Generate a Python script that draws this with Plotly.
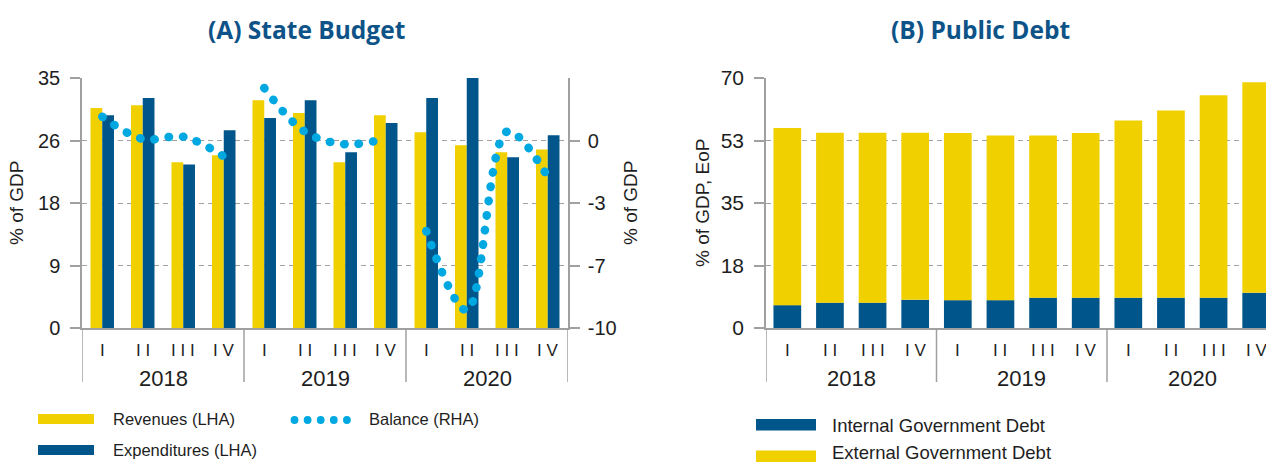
import plotly.graph_objects as go

# ---------------- data ----------------
years = ["2018"] * 4 + ["2019"] * 4 + ["2020"] * 4
quarters = ["I", "II", "III", "IV"] * 3
year_list = ["2018", "2019", "2020"]

revenues = [30.8, 31.2, 23.2, 24.2, 31.9, 30.1, 23.2, 29.8, 27.4, 25.6, 24.6, 25.0]
expenditures = [29.8, 32.2, 22.9, 27.7, 29.4, 31.9, 24.6, 28.7, 32.2, 35.0, 23.9, 27.0]
balance_2018 = [1.27, 0.08, 0.20, -0.85]
balance_2019 = [2.80, 0.47, -0.20, 0.10]
balance_2020 = [-4.83, -9.05, 0.48, -1.93]

internal_debt = [6.4, 7.1, 7.1, 7.9, 7.8, 7.8, 8.5, 8.5, 8.5, 8.5, 8.5, 9.9]
external_debt = [49.6, 47.6, 47.6, 46.8, 46.8, 46.1, 45.4, 46.1, 49.6, 52.4, 56.7, 58.9]

budget_lha_vals = [0, 8.75, 17.5, 26.25, 35]
budget_lha_text = ["0", "9", "18", "26", "35"]
budget_rha_vals = [-10, -20 / 3, -10 / 3, 0]
budget_rha_text = ["-10", "-7", "-3", "0"]
debt_vals = [0, 17.5, 35, 52.5, 70]
debt_text = ["0", "18", "35", "53", "70"]

# ---------------- style ----------------
W, H = 1266, 465
YELLOW = "#F1D000"
BLUE = "#00558A"
CYAN = "#00A8E2"
GRAY = "#A0A0A0"
TITLE = "#0E5388"
TXT = "#1E1E1E"
FONT = "Liberation Sans"


def px(x):
    return x / W


def py(y):
    return 1 - y / H


cats = [y + " " + q for y, q in zip(years, quarters)]
idx = {c: i for i, c in enumerate(cats)}

fig = go.Figure()

# (A) State budget bars
fig.add_trace(go.Bar(x=cats, y=revenues, xaxis="x", yaxis="y", marker_color=YELLOW,
                     marker_line_width=0, width=0.29, offset=-0.29, showlegend=False,
                     name="Revenues (LHA)"))
fig.add_trace(go.Bar(x=cats, y=expenditures, xaxis="x", yaxis="y", marker_color=BLUE,
                     marker_line_width=0, width=0.29, offset=0.0, showlegend=False,
                     name="Expenditures (LHA)"))

# balance (dotted spline, one segment per year)
for yr, bal in zip(year_list, [balance_2018, balance_2019, balance_2020]):
    fig.add_trace(go.Scatter(x=[yr + " " + q for q in ["I", "II", "III", "IV"]], y=bal,
                             xaxis="x", yaxis="y2", mode="lines",
                             line=dict(color=CYAN, width=8.5, dash="0.5px,14px", shape="spline"),
                             showlegend=False, name="Balance (RHA)"))

# (B) Public debt stacked bars
fig.add_trace(go.Bar(x=cats, y=internal_debt, xaxis="x2", yaxis="y3", marker_color=BLUE,
                     marker_line_width=0, width=0.65, showlegend=False,
                     name="Internal Government Debt"))
fig.add_trace(go.Bar(x=cats, y=external_debt, base=internal_debt, xaxis="x2", yaxis="y3",
                     marker_color=YELLOW, marker_line_width=0, width=0.65, showlegend=False,
                     name="External Government Debt"))

ydom = [py(328), py(78)]
common_x = dict(type="category", showline=True, linecolor=GRAY, linewidth=1.5,
                ticks="", showticklabels=False, showgrid=False, zeroline=False,
                automargin=False, categoryorder="array", categoryarray=cats)
common_y = dict(showgrid=True, gridcolor=GRAY, griddash="5px,4px", gridwidth=1.3,
                showline=True, linecolor=GRAY, linewidth=1.5, ticks="outside", ticklen=10,
                tickcolor=GRAY, tickwidth=1.5, tickfont=dict(size=20, color=TXT, family=FONT),
                zeroline=False, tickmode="array", automargin=False)

fig.update_layout(
    width=W, height=H, autosize=False,
    margin=dict(l=0, r=0, t=0, b=0, pad=0, autoexpand=False),
    paper_bgcolor="white", plot_bgcolor="white",
    barmode="overlay",
    font=dict(family=FONT, color=TXT),
    showlegend=False,
    xaxis=dict(domain=[px(82), px(568)], anchor="y", range=[-0.5, 11.5], **common_x),
    yaxis=dict(domain=ydom, anchor="x", range=[0, 35], tickvals=budget_lha_vals,
               ticktext=budget_lha_text, ticklabelstandoff=6, **common_y),
    yaxis2=dict(overlaying="y", side="right", anchor="x", range=[-10, 10 / 3],
                tickvals=budget_rha_vals, ticktext=budget_rha_text, showgrid=False,
                showline=True, linecolor=GRAY, linewidth=1.5, ticks="outside", ticklen=10,
                tickcolor=GRAY, tickwidth=1.5, zeroline=False, ticklabelstandoff=4,
                automargin=False, tickfont=dict(size=20, color=TXT, family=FONT)),
    xaxis2=dict(domain=[px(766), 1.0], anchor="y3", range=[-0.5, 11.23], **common_x),
    yaxis3=dict(domain=ydom, anchor="x2", range=[0, 70], tickvals=debt_vals,
                ticktext=debt_text, ticklabelstandoff=6, **common_y),
)
fig.update_layout(yaxis3_tickfont_size=21)

ann = []
ann.append(dict(text="<b>(A) State Budget</b>", x=px(306), y=py(30), xref="paper", yref="paper",
                showarrow=False, xanchor="center", yanchor="middle",
                font=dict(size=24.5, color=TITLE, family="Open Sans")))
ann.append(dict(text="<b>(B) Public Debt</b>", x=px(981), y=py(30), xref="paper", yref="paper",
                showarrow=False, xanchor="center", yanchor="middle",
                font=dict(size=24.5, color=TITLE, family="Open Sans")))
for txt, xx in [("% of GDP", 17), ("% of GDP", 631), ("% of GDP, EoP", 703)]:
    ann.append(dict(text=txt, x=px(xx), y=py(203), xref="paper", yref="paper", showarrow=False,
                    textangle=-90, xanchor="center", yanchor="middle",
                    font=dict(size=19, color=TXT, family=FONT)))

# category axis labels (quarters and years) placed on the axes' own category positions
for xr in ["x", "x2"]:
    for c, q in zip(cats, quarters):
        ann.append(dict(text=" ".join(list(q)), x=idx[c], y=py(350), xref=xr, yref="paper",
                        showarrow=False, xanchor="center", yanchor="middle",
                        font=dict(size=17, color=TXT, family=FONT)))
    for k, yr in enumerate(year_list):
        mid = (idx[yr + " I"] + idx[yr + " IV"]) / 2
        ann.append(dict(text=yr, x=mid, y=py(378), xref=xr, yref="paper", showarrow=False,
                        xanchor="center", yanchor="middle",
                        font=dict(size=22, color=TXT, family=FONT)))

for txt, xx, yy, fs in [("Revenues (LHA)", 111, 419, 16.5), ("Expenditures (LHA)", 111, 450, 16.5),
                        ("Balance (RHA)", 367, 419, 16.5),
                        ("Internal Government Debt", 830, 425, 18.5),
                        ("External Government Debt", 830, 452.5, 18.5)]:
    ann.append(dict(text=txt, x=px(xx), y=py(yy), xref="paper", yref="paper", showarrow=False,
                    xanchor="left", yanchor="middle", font=dict(size=fs, color=TXT, family=FONT)))

shapes = []
# group dividers below the category axes
for xr, bounds in [("x", [-0.5, 3.5, 7.5, 11.5]), ("x2", [-0.5, 3.5, 7.5])]:
    for b in bounds:
        shapes.append(dict(type="line", xref=xr, yref="paper", x0=b, x1=b, y0=py(382), y1=py(328),
                           line=dict(color=GRAY, width=1.5)))
# legend swatches
for x0, x1, y0, y1, col in [(38, 94, 414, 424, YELLOW), (38, 94, 445, 455, BLUE),
                            (756, 816, 419, 430.5, BLUE), (756, 816, 450.5, 462, YELLOW)]:
    shapes.append(dict(type="rect", xref="paper", yref="paper", x0=px(x0), x1=px(x1),
                       y0=py(y1), y1=py(y0), fillcolor=col, line=dict(width=0)))
for cx in [294.5, 307.6, 320.7, 333.8, 346.9]:
    r = 3.9
    shapes.append(dict(type="circle", xref="paper", yref="paper", x0=px(cx - r), x1=px(cx + r),
                       y0=py(420 + r), y1=py(420 - r), fillcolor=CYAN, line=dict(width=0)))

fig.update_layout(annotations=ann, shapes=shapes)

post = """
document.documentElement.style.margin = '0';
document.documentElement.style.padding = '0';
document.body.style.margin = '0';
document.body.style.padding = '0';
document.body.style.overflow = 'hidden';
var gd = document.getElementById('{plot_id}');
function fixCaps(){
  gd.querySelectorAll('.scatterlayer path.js-line').forEach(function(p){
    p.style.strokeLinecap = 'round';
  });
}
fixCaps();
if (gd.on) { gd.on('plotly_afterplot', fixCaps); }
"""
fig.write_html("out.html", post_script=post, config={"displayModeBar": False})
